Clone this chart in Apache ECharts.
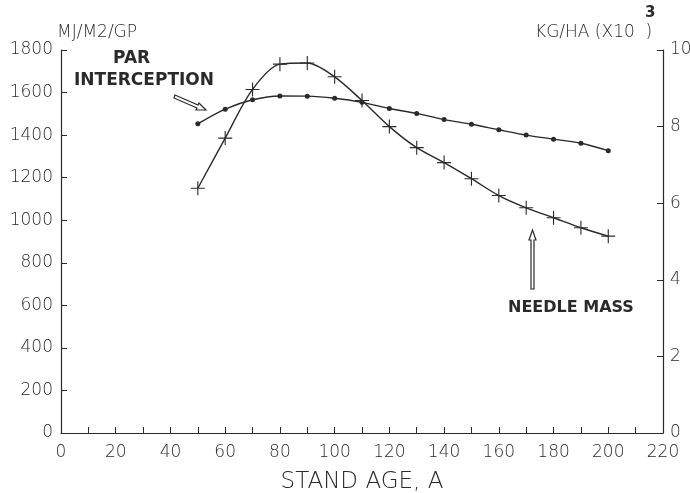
<!DOCTYPE html>
<html>
<head>
<meta charset="utf-8">
<script src="https://cdn.jsdelivr.net/npm/echarts@6/dist/echarts.min.js"></script>
<style>
  html, body { margin: 0; padding: 0; background: #fff; }
  #main { width: 690px; height: 493px; }
</style>
</head>
<body>
<div id="main"></div>
<script>
// 林分年龄 (A)
var standAge = [50, 60, 70, 80, 90, 100, 110, 120, 130, 140, 150, 160, 170, 180, 190, 200];
// PAR interception, MJ/M2/GP (左轴)
var parInterception = [1453, 1522, 1566, 1584, 1583, 1573, 1554, 1525, 1502, 1473, 1451, 1425, 1400, 1381, 1362, 1327];
// needle mass, KG/HA x10^3 (右轴)
var needleMass = [6.39, 7.70, 8.97, 9.63, 9.66, 9.30, 8.68, 8.00, 7.45, 7.06, 6.64, 6.20, 5.88, 5.62, 5.36, 5.14];

var FONT = 'DejaVu Sans';
var INK = '#2a2a2a';

function pairs(xs, ys) {
  return xs.map(function (x, i) { return [x, ys[i]]; });
}

// 十字标记
var plusPath = 'path://M-0.08,-1L0.08,-1L0.08,-0.08L1,-0.08L1,0.08L0.08,0.08L0.08,1L-0.08,1L-0.08,0.08L-1,0.08L-1,-0.08L-0.08,-0.08Z';

var myChart = echarts.init(document.getElementById('main'));

var option = {
  backgroundColor: '#fff',
  animation: false,
  grid: { left: 61, right: 27, top: 50, bottom: 60, containLabel: false, outerBoundsMode: 'none' },
  xAxis: {
    type: 'value',
    min: 0,
    max: 220,
    interval: 10,
    name: 'STAND AGE, A',
    nameLocation: 'middle',
    nameGap: 38,
    nameTextStyle: { fontFamily: FONT, fontSize: 23, fontWeight: 200, color: INK },
    axisLine: { show: true, lineStyle: { color: INK, width: 1.2 } },
    axisTick: { show: true, inside: true, length: 6, lineStyle: { color: INK } },
    axisLabel: {
      fontFamily: FONT, fontSize: 17, fontWeight: 200, color: INK, margin: 11,
      formatter: function (v) { return v % 20 === 0 ? String(v) : ''; }
    },
    splitLine: { show: false }
  },
  yAxis: [
    {
      type: 'value',
      min: 0,
      max: 1800,
      interval: 200,
      position: 'left',
      axisLine: { show: true, lineStyle: { color: INK, width: 1.2 } },
      axisTick: { show: true, inside: true, length: 6, lineStyle: { color: INK } },
      axisLabel: {
        fontFamily: FONT, fontSize: 17, fontWeight: 200, color: INK, margin: 8,
        formatter: function (v) { return String(v); }
      },
      splitLine: { show: false }
    },
    {
      type: 'value',
      min: 0,
      max: 10,
      interval: 2,
      position: 'right',
      axisLine: { show: true, lineStyle: { color: INK, width: 1.2 } },
      axisTick: { show: true, inside: true, length: 6, lineStyle: { color: INK } },
      axisLabel: { fontFamily: FONT, fontSize: 17, fontWeight: 200, color: INK, margin: 7 },
      splitLine: { show: false }
    }
  ],
  series: [
    {
      name: 'PAR INTERCEPTION',
      type: 'line',
      yAxisIndex: 0,
      smooth: 0.3,
      symbol: 'circle',
      symbolSize: 5,
      itemStyle: { color: INK },
      lineStyle: { color: INK, width: 1.4 },
      data: pairs(standAge, parInterception)
    },
    {
      name: 'NEEDLE MASS',
      type: 'line',
      yAxisIndex: 1,
      smooth: 0.3,
      symbol: plusPath,
      symbolSize: 14,
      itemStyle: { color: INK },
      lineStyle: { color: INK, width: 1.4 },
      data: pairs(standAge, needleMass)
    }
  ],
  graphic: [
    { type: 'text', left: 57, top: 24, style: { text: 'MJ/M2/GP', font: '200 17px "DejaVu Sans"', fill: INK } },
    { type: 'text', left: 535, top: 24, style: { text: 'KG/HA (X10  )', font: '200 17px "DejaVu Sans"', fill: INK } },
    { type: 'text', left: 645, top: 6, style: { text: '3', font: 'bold 15px "DejaVu Sans"', fill: INK } },
    { type: 'text', left: 113, top: 50, style: { text: 'PAR', font: 'bold 17px "DejaVu Sans"', fill: INK } },
    { type: 'text', left: 74, top: 72, style: { text: 'INTERCEPTION', font: 'bold 17px "DejaVu Sans"', fill: INK } },
    { type: 'text', left: 508, top: 300, style: { text: 'NEEDLE MASS', font: 'bold 16px "DejaVu Sans"', fill: INK } },
    // PAR 箭头
    {
      type: 'polygon',
      shape: { points: [[175, 95], [198, 105], [199, 103], [206, 110], [196, 110], [197, 108], [174, 98]] },
      style: { fill: '#fff', stroke: INK, lineWidth: 1.2 }
    },
    // NEEDLE MASS 箭头
    {
      type: 'polygon',
      shape: { points: [[531, 289], [531, 240], [529, 240], [532.5, 230], [536, 240], [534, 240], [534, 289]] },
      style: { fill: '#fff', stroke: INK, lineWidth: 1.2 }
    }
  ]
};

myChart.setOption(option);
window.addEventListener('resize', function () {
  myChart.resize();
});
</script>
</body>
</html>
